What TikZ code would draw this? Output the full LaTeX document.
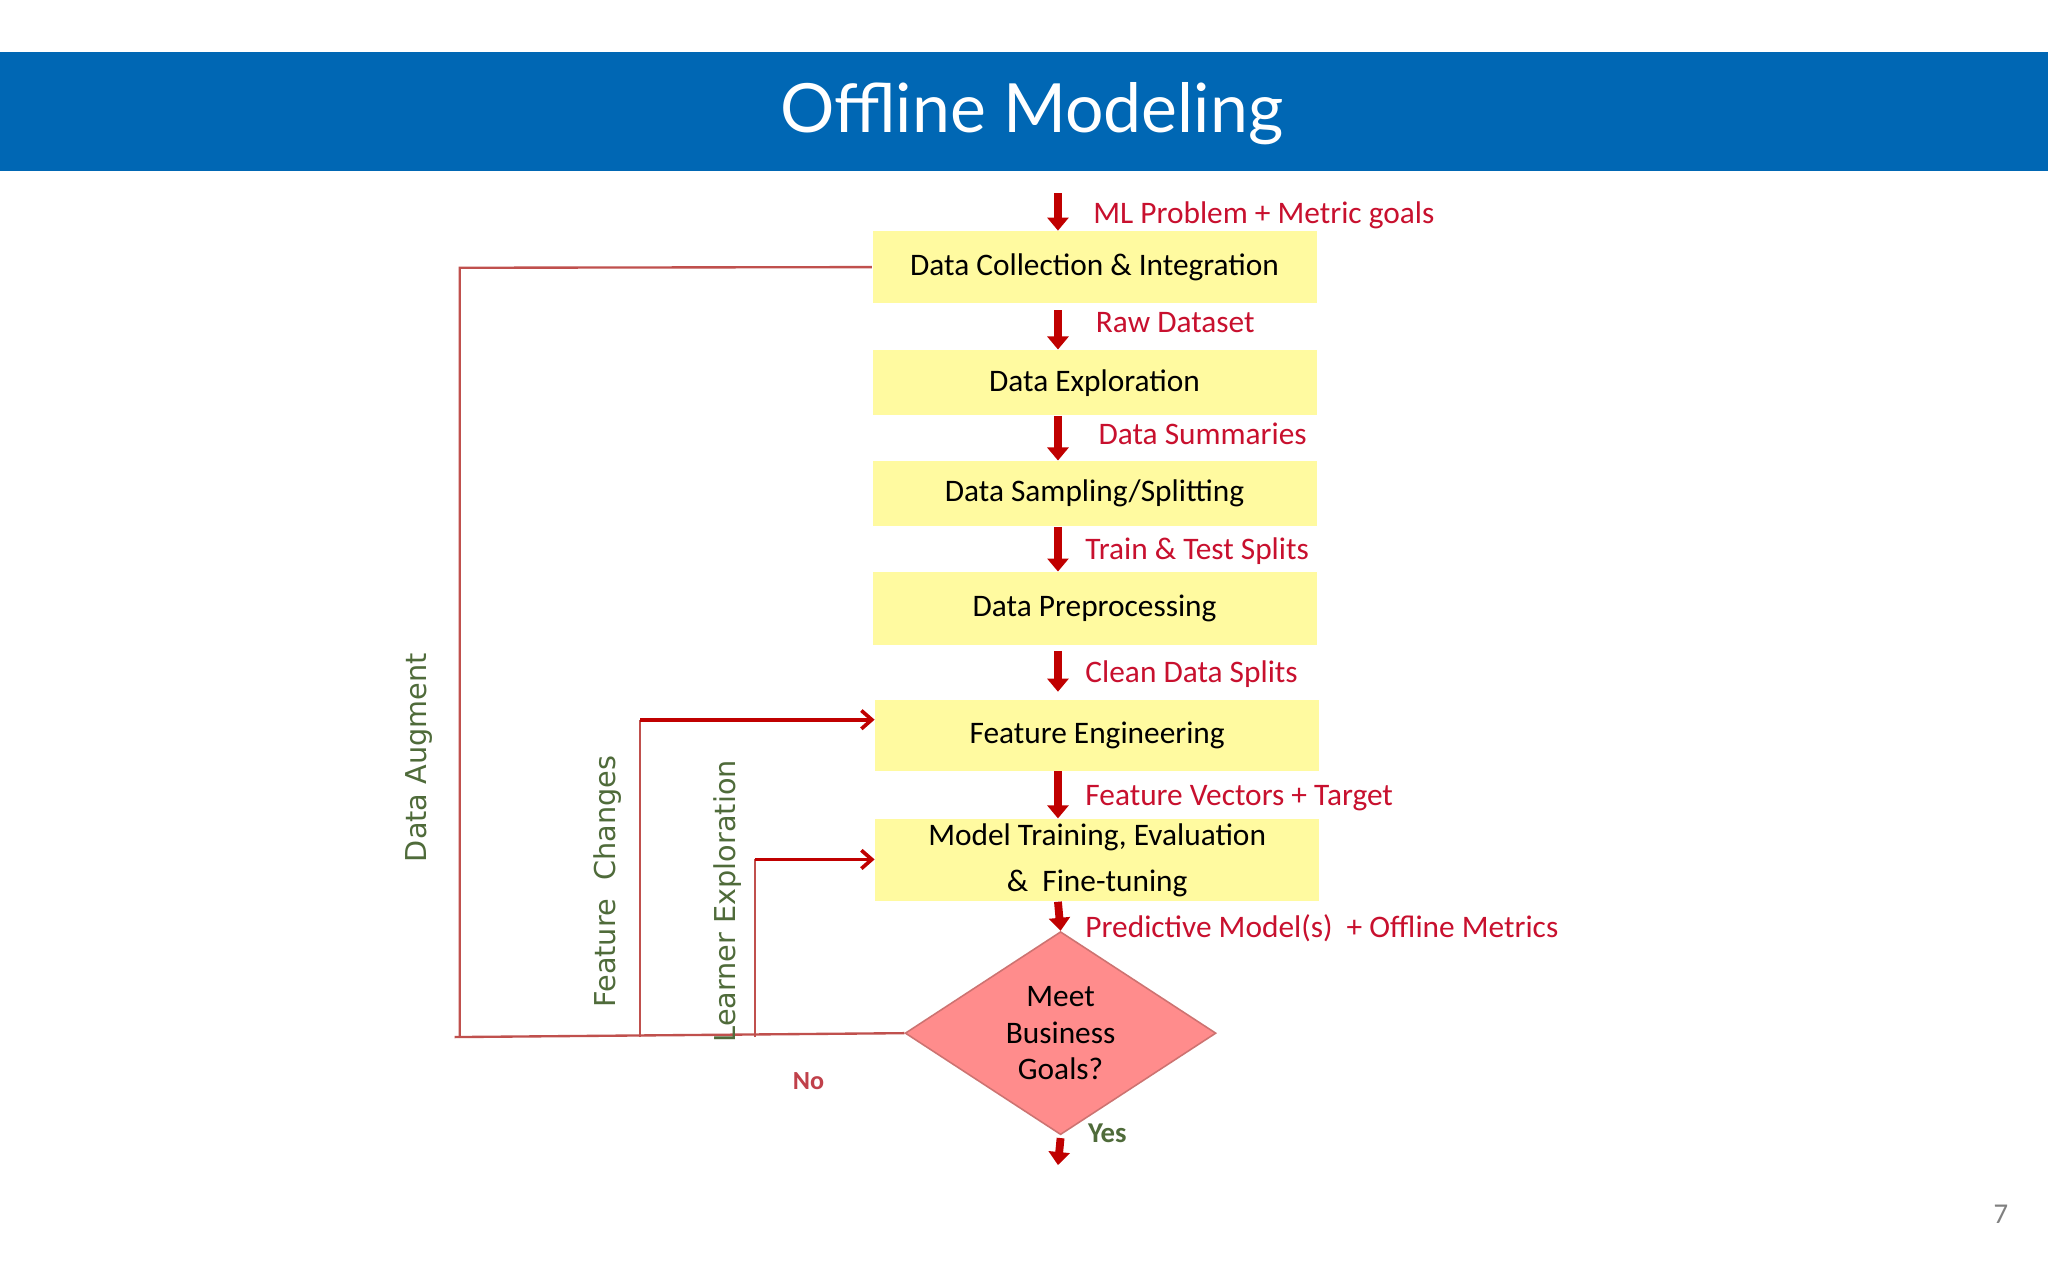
\documentclass[tikz,border=0pt]{standalone}
\usepackage{fontspec}
\setmainfont{Carlito}
\newfontfamily\vfont{DejaVu Sans}
\newfontfamily\tfont{Lato}
\usetikzlibrary{shapes.geometric,arrows.meta}
\definecolor{barblue}{HTML}{0067B4}
\definecolor{boxy}{HTML}{FFFAA0}
\definecolor{darr}{HTML}{C00000}
\definecolor{lbl}{HTML}{C8102E}
\definecolor{fb}{HTML}{C0504D}
\definecolor{olive}{HTML}{4F6B3A}
\begin{document}
\begin{tikzpicture}[x=0.5pt,y=-0.5pt,
  stepbox/.style={fill=boxy,minimum width=170pt,inner sep=0pt,font=\fontsize{12}{15}\selectfont,align=center},
  flow/.style={darr,line width=3pt,-{Triangle[length=5pt,width=8pt]}},
  flab/.style={lbl,font=\fontsize{12}{14}\selectfont,anchor=west},
  fbline/.style={fb,line width=0.9pt},
  fbarrow/.style={darr,line width=1.4pt,-{Straight Barb[length=4pt,width=7pt]}},
  vlab/.style={olive,rotate=90,font=\vfont\fontsize{11}{13}\selectfont}]
\useasboundingbox (0,0) rectangle (1568,980);
\fill[white] (0,0) rectangle (1568,980);
\fill[barblue] (0,40) rectangle (1568,131);
\node[white,font=\tfont\fontsize{26}{30}\selectfont] (title) at (790,87) {Offline Modeling};

\node[stepbox,minimum height=27.5pt] (b1) at (838,204.5) {Data Collection \& Integration};
\node[stepbox,minimum height=25pt] (b2) at (838,293) {Data Exploration};
\node[stepbox,minimum height=25pt] (b3) at (838,378) {Data Sampling/Splitting};
\node[stepbox,minimum height=28pt] (b4) at (838,466) {Data Preprocessing};
\node[stepbox,minimum height=27pt] (b5) at (840,563) {Feature Engineering};
\node[stepbox,minimum height=31.5pt,font=\fontsize{12}{17.5}\selectfont] (b6) at (840,658.5) {Model Training, Evaluation\\ \&\ \ Fine-tuning};
\node[diamond,draw=fb!80,fill=red!45!white,line width=0.6pt,minimum width=119pt,minimum height=60pt,inner sep=0pt,align=center,font=\fontsize{12}{14}\selectfont] (d) at (812,791) {Meet\\Business\\Goals?};

\coordinate (ax) at (810,0);
\coordinate (s0) at (810,148);
\coordinate (yes) at (810,892);
\draw[flow] (s0) -- (ax |- b1.north);
\draw[flow] (ax |- b1.south) ++(0,5) -- (ax |- b2.north);
\draw[flow] (ax |- b2.south) -- (ax |- b3.north);
\draw[flow] (ax |- b3.south) -- (ax |- b4.north);
\draw[flow] (ax |- b4.south) ++(0,4) -- ([yshift=3pt]ax |- b5.north);
\draw[flow] (ax |- b5.south) -- (ax |- b6.north);
\draw[flow] (ax |- b6.south) -- (d.north);
\draw[flow] (d.south) ++(0,2) -- (yes);

\node[flab] (l1) at (830,165) {ML Problem + Metric goals};
\node[flab] (l2) at (832,247) {Raw Dataset};
\node[flab] (l3) at (834,332) {Data Summaries};
\node[flab] (l4) at (824,422) {Train \& Test Splits};
\node[flab] (l5) at (824,516) {Clean Data Splits};
\node[flab] (l6) at (824,611) {Feature Vectors + Target};
\node[flab] (l7) at (824,711) {Predictive Model(s)\ \ + Offline Metrics};
\node[olive,font=\bfseries\fontsize{11}{13}\selectfont,anchor=west] (ly) at (826,868) {Yes};
\node[fb!80!purple,font=\bfseries\fontsize{10}{12}\selectfont] (no) at (619,828) {No};

\coordinate (c0) at (348,794);
\coordinate (c1) at (352,205);
\coordinate (c2) at (490,551);
\coordinate (c3) at (578,658);
\draw[fbline] (d.west) -- (c0);
\draw[fbline] (352,794) -- (c1) -- (b1.west);
\draw[fbline] (490,794) -- (c2);
\draw[fbarrow] (c2) -- (b5.west |- c2);
\draw[fbline] (578,794) -- (c3);
\draw[fbarrow] (c3) -- (b6.west |- c3);

\node[vlab] (v1) at (321,580) {Data Augment};
\node[vlab] (v2) at (465,675) {Feature\ \ Changes};
\node[vlab] (v3) at (557,690) {Learner Exploration};
\node[gray,font=\fontsize{11}{13}\selectfont] (pg) at (1532,930) {7};
\end{tikzpicture}
\end{document}
